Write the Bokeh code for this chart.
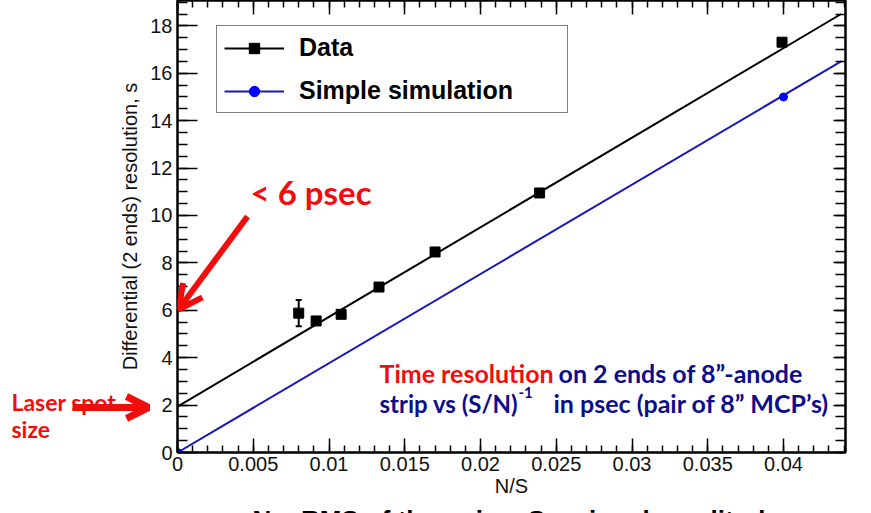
from bokeh.plotting import figure
from bokeh.models import (Range1d, LinearAxis, SingleIntervalTicker, CustomJSTickFormatter,
                          Legend, LegendItem, Label, Arrow, OpenHead, Whisker, ColumnDataSource, TeeHead)
from bokeh.embed import file_html
from bokeh.resources import INLINE

# ---- data ----
ns_data = [0.0080, 0.00915, 0.0108, 0.0133, 0.0170, 0.0239, 0.0399]
res_data = [5.88, 5.55, 5.83, 6.98, 8.46, 10.95, 17.31]
err_data = [0.55, 0.15, 0.08, 0.08, 0.08, 0.08, 0.08]
ns_sim = [0.0, 0.040]
res_sim = [0.0, 15.0]
fit_ns = [0.0, 0.0438]
fit_data = [1.94, 18.5]
fit_sim = [0.0, 16.5]

x_label = "N/S"
y_label = "Differential (2 ends) resolution, s"

XMAX = 0.04409
YMAX = 19.07
W, H = 871, 513

# pixel -> data helpers for annotation placement (frame: x 177..845, y 0..452)
def dx(px):
    return (px - 177) / 15150.0

def dy(py):
    return (452 - py) / 23.7

ABS = {"position": "absolute", "top": "0px", "left": "0px"}

# ---- background figure: whole canvas is its frame, holds out-of-frame annotations ----
bg = figure(width=W, height=H, output_backend="svg", toolbar_location=None,
            x_range=Range1d(dx(0), dx(W)), y_range=Range1d(dy(H), dy(0)),
            min_border=0, min_border_left=0, min_border_right=0, min_border_top=0, min_border_bottom=0,
            x_axis_type=None, y_axis_type=None)
bg.styles = dict(ABS)
bg.outline_line_color = None
bg.xgrid.visible = False
bg.ygrid.visible = False
bg.background_fill_color = "white"
bg.border_fill_color = "white"

# ---- main figure ----
p = figure(width=W, height=H, output_backend="svg", toolbar_location=None,
           x_range=Range1d(0, XMAX), y_range=Range1d(0, YMAX),
           min_border_left=177, min_border_right=26, min_border_top=0, min_border_bottom=61,
           x_axis_type=None, y_axis_type=None)
p.styles = dict(ABS)
p.xgrid.visible = False
p.ygrid.visible = False
p.outline_line_color = "black"
p.outline_line_width = 2
p.background_fill_alpha = 0
p.border_fill_alpha = 0

fmt = CustomJSTickFormatter(code="var s = tick.toFixed(3); s = s.replace(/0+$/, ''); s = s.replace(/\\.$/, ''); return s;")
blank = CustomJSTickFormatter(code="return '';")
FONT = "Liberation Sans"
INK = "#111111"

def xticker():
    return SingleIntervalTicker(interval=0.005, num_minor_ticks=5)

def yticker():
    return SingleIntervalTicker(interval=2, num_minor_ticks=4)

xb = LinearAxis(ticker=xticker(), formatter=fmt, axis_label=x_label,
                major_tick_in=14, major_tick_out=0, minor_tick_in=7, minor_tick_out=0,
                major_label_standoff=4, axis_label_standoff=1,
                major_label_text_font=FONT, major_label_text_font_size="20px",
                major_label_text_color=INK, axis_label_text_color=INK,
                axis_label_text_font=FONT, axis_label_text_font_size="20px",
                axis_label_text_font_style="normal",
                axis_line_width=2, major_tick_line_width=1.5, minor_tick_line_width=1.5)
p.add_layout(xb, "below")

yl = LinearAxis(ticker=yticker(), axis_label=y_label,
                major_tick_in=20, major_tick_out=0, minor_tick_in=10, minor_tick_out=0,
                major_label_standoff=5, axis_label_standoff=6,
                major_label_text_font=FONT, major_label_text_font_size="20px",
                major_label_text_color=INK, axis_label_text_color=INK,
                axis_label_text_font=FONT, axis_label_text_font_size="20px",
                axis_label_text_font_style="normal",
                axis_line_width=2, major_tick_line_width=1.5, minor_tick_line_width=1.5)
p.add_layout(yl, "left")

xt = LinearAxis(ticker=xticker(), formatter=blank, major_label_text_font_size="0px", major_label_standoff=0,
                major_tick_in=14, major_tick_out=0, minor_tick_in=7, minor_tick_out=0,
                axis_line_width=2, major_tick_line_width=1.5, minor_tick_line_width=1.5)
p.add_layout(xt, "above")

yr = LinearAxis(ticker=yticker(), formatter=blank, major_label_text_font_size="0px", major_label_standoff=0,
                major_tick_in=12, major_tick_out=0, minor_tick_in=10, minor_tick_out=0,
                axis_line_width=2, major_tick_line_width=1.5, minor_tick_line_width=1.5)
p.add_layout(yr, "right")

# ---- fit lines ----
l_data = p.line(fit_ns, fit_data, line_color="black", line_width=2)
l_sim = p.line(fit_ns, fit_sim, line_color="#1818b8", line_width=2)

# ---- error bars and markers ----
src = ColumnDataSource(dict(x=ns_data, y=res_data,
                            lo=[v - e for v, e in zip(res_data, err_data)],
                            hi=[v + e for v, e in zip(res_data, err_data)]))
w = Whisker(source=src, base="x", lower="lo", upper="hi", line_color="black", line_width=2,
            upper_head=TeeHead(size=6, line_width=2, line_color="black"),
            lower_head=TeeHead(size=6, line_width=2, line_color="black"))
p.add_layout(w)
m_data = p.scatter("x", "y", source=src, marker="square", size=10, fill_color="black", line_color="black")
m_sim = p.scatter(ns_sim, res_sim, marker="circle", size=8, fill_color="#0000ff", line_color="#0000ff")

# ---- legend ----
legend = Legend(items=[LegendItem(label="Data", renderers=[l_data, m_data]),
                       LegendItem(label="Simple simulation", renderers=[l_sim, m_sim])],
                location=(39, 339), margin=0, padding=7, spacing=14,
                glyph_width=60, glyph_height=26, label_height=26, label_width=261, label_standoff=15,
                label_text_font=FONT, label_text_font_size="25px", label_text_font_style="bold",
                label_text_color="black",
                border_line_color="black", border_line_width=1.5, background_fill_alpha=1)
p.add_layout(legend, "center")

# ---- annotations ----
RED = "#f20d0d"
BLUE = "#0c0c8c"
AF = "Lato"

def lab(fig, text, px, py, color, size, font=AF, baseline="alphabetic"):
    fig.add_layout(Label(x=dx(px), y=dy(py), text=text, text_color=color, text_font=font,
                         text_font_size=size, text_font_style="bold", text_baseline=baseline,
                         text_align="left"))

lab(p, "< 6 psec", 250, 192, RED, "33px")
lab(p, "Time resolution", 379, 373, RED, "25px")
lab(p, "on 2 ends of 8\u201d-anode", 558, 373, BLUE, "25px")
lab(p, "strip vs (S/N)", 379, 403, BLUE, "24px")
lab(p, "-1", 518, 392, BLUE, "15px")
lab(p, "in psec (pair of 8\u201d MCP\u2019s)", 553, 403, BLUE, "25px")

p.add_layout(Arrow(x_start=dx(247), y_start=dy(216), x_end=dx(178), y_end=dy(309),
                   line_color=RED, line_width=6,
                   end=OpenHead(size=24, line_color=RED, line_width=6)))

# out-of-frame annotations go on the background figure
lab(bg, "Laser spot", 11, 401, RED, "23px")
lab(bg, "size", 11, 428, RED, "23px")
lab(bg, "N = RMS of the noise; S = signal amplitude", 252, 504, "black", "26px",
    font=FONT, baseline="top")
bg.add_layout(Arrow(x_start=dx(72), y_start=dy(407), x_end=dx(148), y_end=dy(407),
                    line_color=RED, line_width=7,
                    end=OpenHead(size=22, line_color=RED, line_width=7)))

open("out.html", "w").write(file_html([bg, p], INLINE))
